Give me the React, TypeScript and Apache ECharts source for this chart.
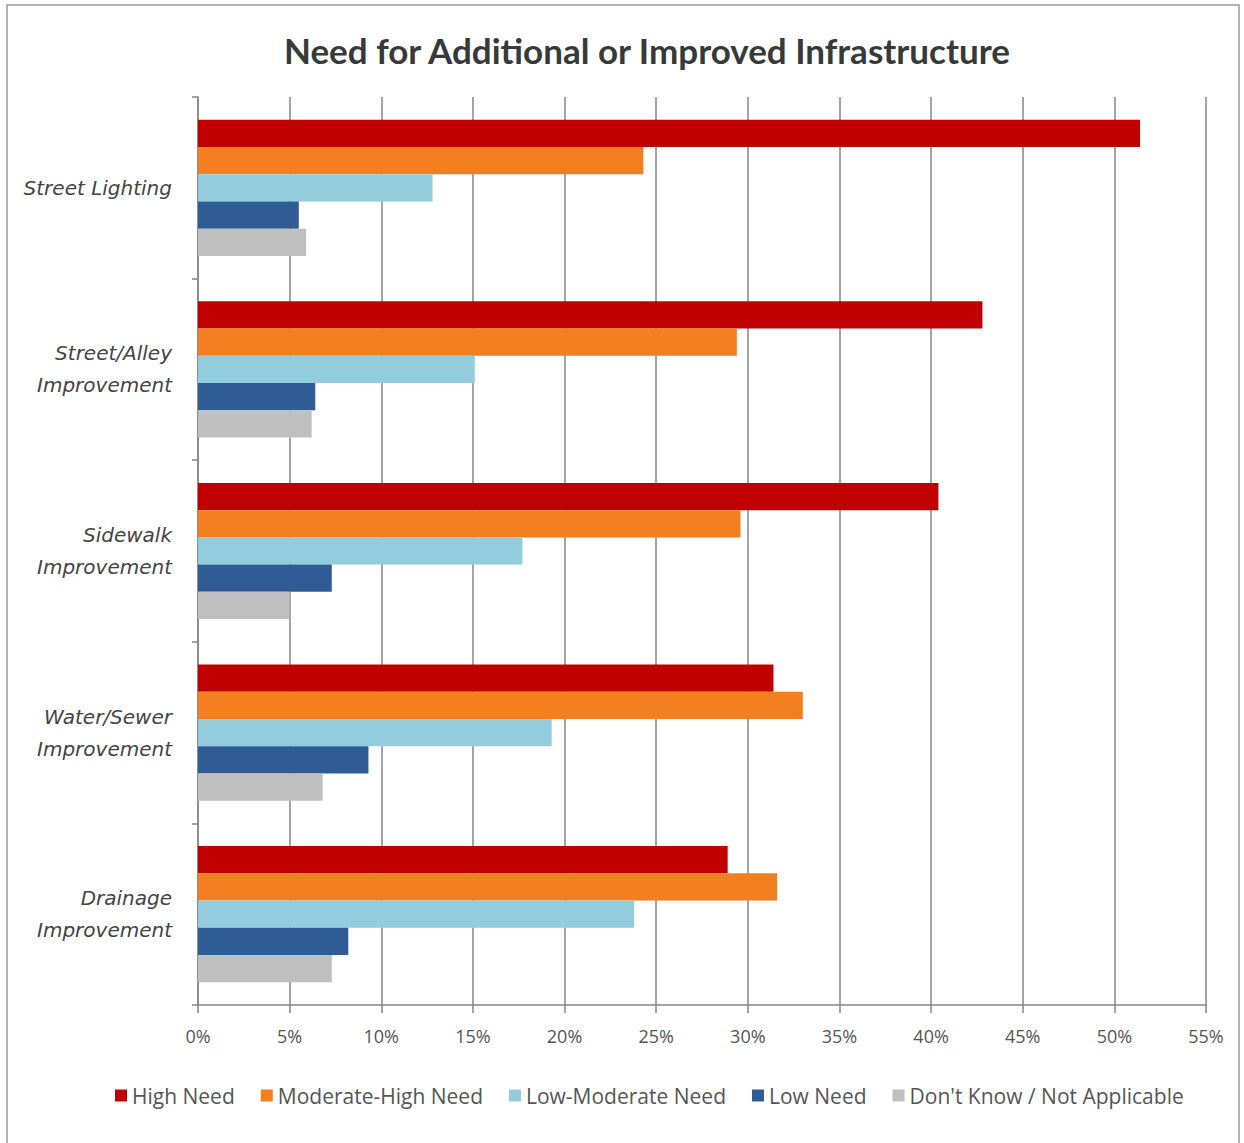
import React, { useEffect, useRef } from "react";
import * as echarts from "echarts";

const categories = [
  "Street Lighting",
  "Street/Alley\nImprovement",
  "Sidewalk\nImprovement",
  "Water/Sewer\nImprovement",
  "Drainage\nImprovement",
];
const seriesNames = [
  "High Need",
  "Moderate-High Need",
  "Low-Moderate Need",
  "Low Need",
  "Don't Know / Not Applicable",
];
const highNeed = [51.4, 42.8, 40.4, 31.4, 28.9];
const moderateHighNeed = [24.3, 29.4, 29.6, 33.0, 31.6];
const lowModerateNeed = [12.8, 15.1, 17.7, 19.3, 23.8];
const lowNeed = [5.5, 6.4, 7.3, 9.3, 8.2];
const dontKnow = [5.9, 6.2, 5.0, 6.8, 7.3];
const colors = ["#C00000", "#F47F20", "#93CDDD", "#305C95", "#BFBFBF"];

export default function App() {
  const ref = useRef<HTMLDivElement>(null);
  useEffect(() => {
    document.body.style.margin = "0";
    if (!ref.current) return;
    const chart = echarts.init(ref.current, null, { renderer: "svg" });
    const data = [highNeed, moderateHighNeed, lowModerateNeed, lowNeed, dontKnow];
    chart.setOption({
      animation: false,
      backgroundColor: "#ffffff",
      title: {
        text: "Need for Additional or Improved Infrastructure",
        left: 279,
        top: 27,
        textStyle: {
          fontFamily: "Lato",
          fontWeight: "bold",
          fontSize: 35,
          color: "#363a38",
        },
      },
      graphic: [
        {
          type: "rect",
          shape: { x: 7, y: 5, width: 1232, height: 1160 },
          style: { fill: "none", stroke: "#9a9a9a", lineWidth: 1.5 },
          silent: true,
        },
      ],
      legend: {
        bottom: 32,
        left: 110,
        itemWidth: 12,
        itemHeight: 12,
        itemGap: 26,
        icon: "rect",
        textStyle: { fontFamily: "Open Sans", fontSize: 21, color: "#555555" },
        data: seriesNames,
      },
      grid: { left: 198, right: 38, top: 97, bottom: 138 },
      xAxis: {
        type: "value",
        min: 0,
        max: 55,
        interval: 5,
        axisLine: { show: true, lineStyle: { color: "#868686", width: 1.5 } },
        axisTick: { show: true, length: 8, lineStyle: { color: "#868686", width: 1.5 } },
        splitLine: { show: true, lineStyle: { color: "#868686", width: 1.5 } },
        axisLabel: {
          formatter: "{value}%",
          fontFamily: "Open Sans",
          fontSize: 18,
          color: "#555555",
          margin: 22,
        },
      },
      yAxis: {
        type: "category",
        inverse: true,
        data: categories,
        axisLine: { show: true, lineStyle: { color: "#868686", width: 1.5 } },
        axisTick: { show: true, length: 6, lineStyle: { color: "#868686", width: 1.5 } },
        axisLabel: {
          fontFamily: "DejaVu Sans",
          fontStyle: "italic",
          fontSize: 20,
          color: "#444444",
          margin: 26,
          lineHeight: 32,
          align: "right",
        },
      },
      series: seriesNames.map((name, i) => ({
        name,
        type: "bar",
        data: data[i],
        barGap: "0%",
        barCategoryGap: "25%",
        itemStyle: { color: colors[i] },
      })),
    });
    return () => chart.dispose();
  }, []);
  return <div ref={ref} style={{ width: 1244, height: 1143 }} />;
}
